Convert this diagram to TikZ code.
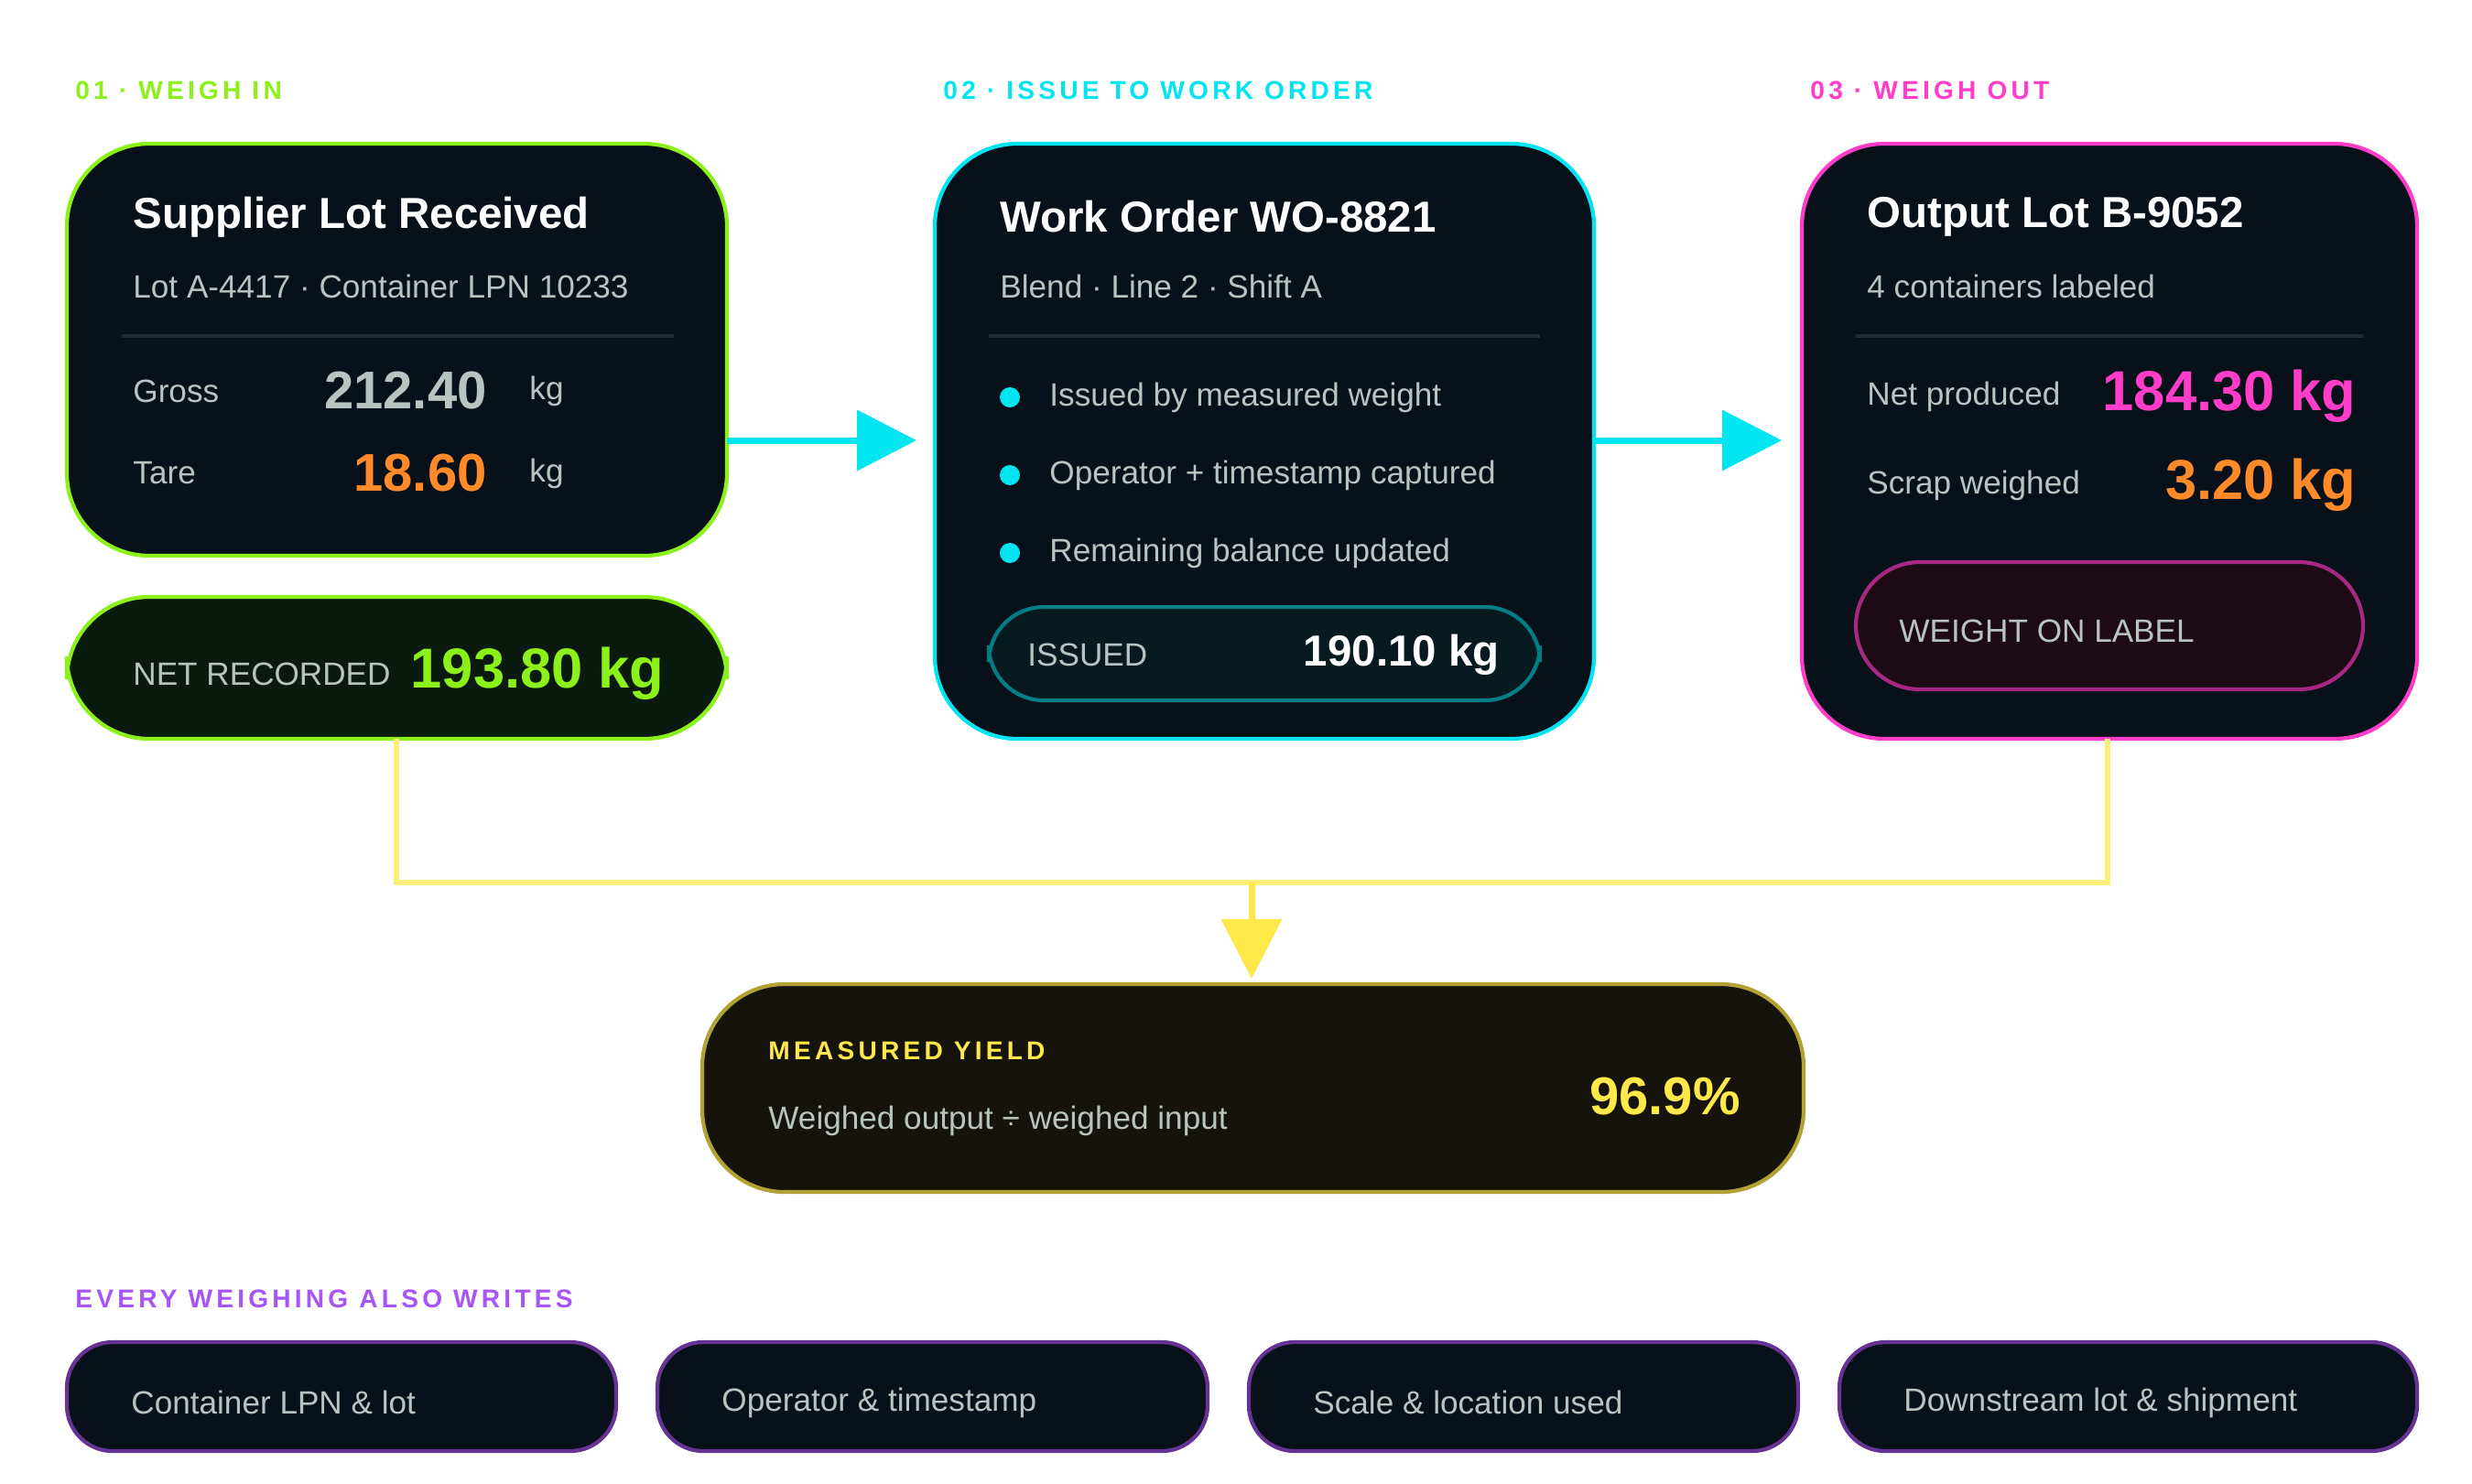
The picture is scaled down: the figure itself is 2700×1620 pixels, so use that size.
\documentclass[tikz,border=0pt]{standalone}
\usepackage{fontspec}
\setmainfont{Liberation Sans}
\usetikzlibrary{arrows.meta,positioning}
\definecolor{cardbg}{HTML}{08111A}
\definecolor{netbg}{HTML}{0B1A0F}
\definecolor{yieldbg}{HTML}{16130D}
\definecolor{labelbg}{HTML}{1C0A14}
\definecolor{issuedbg}{HTML}{061A1F}
\definecolor{lime}{HTML}{8CF01A}
\definecolor{aqua}{HTML}{00E5F0}
\definecolor{hotpink}{HTML}{FF3DC8}
\definecolor{amber}{HTML}{FF8A2A}
\definecolor{sun}{HTML}{FFE84A}
\definecolor{violet}{HTML}{A855F7}
\definecolor{muted}{HTML}{B8C4C0}
\definecolor{rule}{HTML}{222C35}
\newcommand{\fs}[1]{\fontsize{#1}{#1}\selectfont}
\tikzset{
    card/.style={draw,line width=1.2pt,rounded corners=9mm,fill=cardbg},
    stage/.style={anchor=west,font=\fs{8}\bfseries\addfontfeatures{LetterSpace=15}},
    cardtitle/.style={anchor=west,text=white,font=\fs{13.5}\bfseries},
    sub/.style={anchor=west,text=muted,font=\fs{10}},
    big/.style={anchor=east,font=\fs{16.5}\bfseries},
    flow/.style={-{Triangle[length=6.5mm,width=6.5mm]},line width=2pt}
}
\begin{document}
\begin{tikzpicture}[x=0.1mm,y=-0.1mm]
\useasboundingbox[fill=white] (0,0) rectangle (2700,1620);

% stage headings
\node[stage,text=lime]    (h1) at (70,99)   {01 · WEIGH IN};
\node[stage,text=aqua]    (h2) at (1018,99) {02 · ISSUE TO WORK ORDER};
\node[stage,text=hotpink] (h3) at (1965,99) {03 · WEIGH OUT};

% cards
\draw[card,draw=lime]    (73,157) rectangle (794,607);
\draw[card,draw=lime,fill=netbg] (73,652) rectangle (794,807);
\draw[card,draw=aqua]    (1021,157) rectangle (1741,807);
\draw[card,draw=hotpink] (1968,157) rectangle (2640,807);
\draw[card,draw=sun!70!black,fill=yieldbg] (767,1075) rectangle (1970,1302);

\coordinate (c1e) at (794,481);
\coordinate (c2w) at (1001,481);
\coordinate (c2e) at (1741,481);
\coordinate (c3w) at (1946,481);
\draw[flow,aqua] (c1e) -- (c2w);
\draw[flow,aqua] (c2e) -- (c3w);

% weigh in
\node[cardtitle] (t1) at (133,237) {Supplier Lot Received};
\node[sub]   (s1) at (133,313) {Lot A-4417 · Container LPN 10233};
\draw[rule,line width=1.2pt] (133,367) -- (736,367);
\node[sub] (gl) at (133,427) {Gross};
\node[big,text=muted] (gv) at (544,427) {212.40};
\node[sub] (gk) at (566,427) {kg};
\node[sub] (tl) at (133,517) {Tare};
\node[big,text=amber] (tv) at (544,517) {18.60};
\node[sub] (tk) at (566,517) {kg};
\node[sub] (nl) at (133,736) {NET RECORDED};
\node[big,text=lime,font=\fs{17.5}\bfseries] (nv) at (738,736) {193.80 kg};

% work order
\node[cardtitle] (t2) at (1080,237) {Work Order WO-8821};
\node[sub]   (s2) at (1080,313) {Blend · Line 2 · Shift A};
\draw[rule,line width=1.2pt] (1080,367) -- (1682,367);
\foreach \y/\txt in {434/Issued by measured weight,519/Operator + timestamp captured,604/Remaining balance updated}{
    \fill[aqua] (1103,\y) circle (11);
    \node[sub] at (1134,\y) {\txt};
}
\draw[line width=1.2pt,draw=aqua!55!black,fill=issuedbg,rounded corners=6mm] (1080,663) rectangle (1682,765);
\node[sub] (il) at (1110,715) {ISSUED};
\node[big,text=white,font=\fs{13.5}\bfseries] (iv) at (1650,715) {190.10 kg};

% weigh out
\node[cardtitle] (t3) at (2027,237) {Output Lot B-9052};
\node[sub]   (s3) at (2027,313) {4 containers labeled};
\draw[rule,line width=1.2pt] (2027,367) -- (2581,367);
\node[sub] (pl) at (2027,433) {Net produced};
\node[big,text=hotpink,font=\fs{17.5}\bfseries] (pv) at (2586,433) {184.30 kg};
\node[sub] (sl) at (2027,530) {Scrap weighed};
\node[big,text=amber,font=\fs{17.5}\bfseries] (sv) at (2586,530) {3.20 kg};
\draw[line width=1.2pt,draw=hotpink!65!black,fill=labelbg,rounded corners=7mm] (2027,614) rectangle (2581,753);
\node[sub] (wl) at (2062,689) {WEIGHT ON LABEL};

% yield connector
\coordinate (n1) at (433,807);
\coordinate (n3) at (2302,807);
\coordinate (mid) at (1367,964);
\coordinate (yt) at (1367,1069);
\draw[sun!75,line width=1.5pt] (n1) |- (mid) -| (n3);
\draw[flow,sun] (mid) -- (yt);

% yield
\node[stage,text=sun] (yl) at (827,1148) {MEASURED YIELD};
\node[sub] (ys) at (827,1224) {Weighed output ÷ weighed input};
\node[big,text=sun,font=\fs{16.5}\bfseries] (yv) at (1913,1198) {96.9\%};

% audit trail
\node[stage,text=violet] (h4) at (70,1419) {EVERY WEIGHING ALSO WRITES};
\foreach \xa/\xb/\txt in {73/673/Container LPN \& lot,718/1319/Operator \& timestamp,1364/1964/Scale \& location used,2009/2640/Downstream lot \& shipment}{
    \draw[line width=1.2pt,draw=violet!60!black,fill=cardbg,rounded corners=5mm] (\xa,1466) rectangle (\xb,1585);
    \node[sub] at (\xa+58,1532) {\txt};
}
\end{tikzpicture}
\end{document}
